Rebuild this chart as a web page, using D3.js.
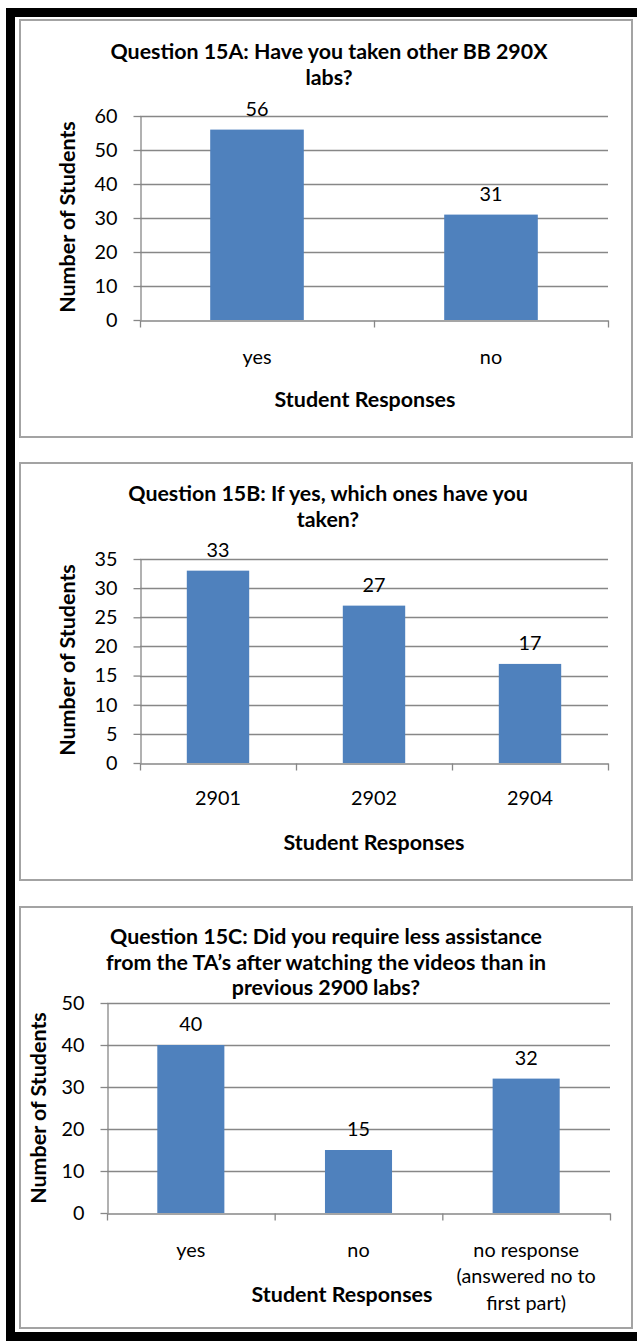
<!DOCTYPE html>
<html>
<head>
<meta charset="utf-8">
<script src="https://cdn.jsdelivr.net/npm/d3@7"></script>
<style>
  body { margin: 0; background: #fff; }
  svg { display: block; }
</style>
</head>
<body>
<svg id="chart" width="637" height="1341"></svg>
<script>
// Survey results, question 15
const q15aTitle = ["Question 15A: Have you taken other BB 290X", "labs?"];
const q15aCategories = ["yes", "no"];
const q15aCounts = [56, 31];
const q15aTicks = [0, 10, 20, 30, 40, 50, 60];

const q15bTitle = ["Question 15B: If yes, which ones have you", "taken?"];
const q15bCategories = ["2901", "2902", "2904"];
const q15bCounts = [33, 27, 17];
const q15bTicks = [0, 5, 10, 15, 20, 25, 30, 35];

const q15cTitle = ["Question 15C: Did you require less assistance",
                   "from the TA\u2019s after watching the videos than in",
                   "previous 2900 labs?"];
const q15cCategories = ["yes", "no", "no response\n(answered no to\nfirst part)"];
const q15cCounts = [40, 15, 32];
const q15cTicks = [0, 10, 20, 30, 40, 50];

const xAxisTitle = "Student Responses";
const yAxisTitle = "Number of Students";

const FONT = "Lato, 'Open Sans', 'DejaVu Sans', sans-serif";
const BAR = "#4f81bd";
const GRID = "#878787";

const svg = d3.select("#chart");

// Size a font so a given string spans a given width
function fitSize(text, weight, target) {
  const t = svg.append("text")
    .attr("font-family", FONT).attr("font-weight", weight)
    .attr("font-size", 100).text(text);
  const w = t.node().getComputedTextLength();
  t.remove();
  return 100 * target / w;
}
const titleSize = fitSize(q15aTitle[0], "bold", 437);
const axisTitleSize = fitSize(xAxisTitle, "bold", 181);
const tickSize = fitSize("2901", "normal", 46);

// Outer black frame (left, top, bottom)
svg.append("rect").attr("x", 6).attr("y", 8).attr("width", 9).attr("height", 1333).attr("fill", "#000");
svg.append("rect").attr("x", 6).attr("y", 8).attr("width", 631).attr("height", 9).attr("fill", "#000");
svg.append("rect").attr("x", 6).attr("y", 1332).attr("width", 631).attr("height", 9).attr("fill", "#000");

function drawPanel(cfg) {
  const g = svg.append("g");

  // chart area border
  g.append("rect")
    .attr("x", cfg.box[0]).attr("y", cfg.box[1])
    .attr("width", cfg.box[2] - cfg.box[0]).attr("height", cfg.box[3] - cfg.box[1])
    .attr("fill", "#fff").attr("stroke", "#a3a3a3").attr("stroke-width", 2);

  const { x0, x1, top, zero } = cfg.plot;
  const n = cfg.categories.length;

  const x = d3.scaleBand().domain(cfg.categories).range([x0, x1])
    .paddingInner(0.6).paddingOuter(0.3);
  const y = d3.scaleLinear().domain([0, d3.max(cfg.ticks)]).range([zero, top]);
  const slot = d3.scaleLinear().domain([0, n]).range([x0, x1]);

  // horizontal gridlines
  g.append("g").selectAll("line").data(cfg.ticks.filter(d => d > 0)).join("line")
    .attr("x1", x0).attr("x2", x1)
    .attr("y1", d => Math.round(y(d)) + 0.5).attr("y2", d => Math.round(y(d)) + 0.5)
    .attr("stroke", GRID).attr("stroke-width", 1.3);

  // bars
  g.append("g").selectAll("rect").data(cfg.counts).join("rect")
    .attr("x", (d, i) => x(cfg.categories[i]))
    .attr("width", x.bandwidth())
    .attr("y", d => y(d))
    .attr("height", d => zero - y(d))
    .attr("fill", BAR);

  // value labels
  g.append("g").selectAll("text").data(cfg.counts).join("text")
    .attr("x", (d, i) => x(cfg.categories[i]) + x.bandwidth() / 2)
    .attr("y", d => y(d) - 21)
    .attr("dy", "0.35em")
    .attr("text-anchor", "middle")
    .attr("font-family", FONT).attr("font-size", tickSize)
    .attr("fill", "#000")
    .text(d => d);

  // y axis
  const yAxis = g.append("g").attr("transform", `translate(${x0 + 0.5},0)`)
    .call(d3.axisLeft(y).tickValues(cfg.ticks).tickSize(7).tickSizeOuter(0).tickPadding(16));
  yAxis.select(".domain").attr("stroke", GRID).attr("stroke-width", 1.3);
  yAxis.selectAll(".tick line").attr("stroke", GRID).attr("stroke-width", 1.3);
  yAxis.selectAll(".tick text")
    .attr("font-family", FONT).attr("font-size", tickSize).attr("fill", "#000");

  // x axis with tick marks between categories
  const xAxis = g.append("g").attr("transform", `translate(0,${Math.round(zero) + 0.5})`)
    .call(d3.axisBottom(slot).tickValues(d3.range(n + 1)).tickSize(7).tickSizeOuter(0).tickFormat(""));
  xAxis.select(".domain").attr("stroke", GRID).attr("stroke-width", 1.3);
  xAxis.selectAll(".tick line").attr("stroke", GRID).attr("stroke-width", 1.3);

  // category labels
  const cat = g.append("g").selectAll("text").data(cfg.categories).join("text")
    .attr("text-anchor", "middle")
    .attr("font-family", FONT).attr("font-size", tickSize).attr("fill", "#000");
  cat.each(function (d) {
    const lines = d.split("\n");
    d3.select(this).selectAll("tspan").data(lines).join("tspan")
      .attr("x", x(d) + x.bandwidth() / 2)
      .attr("y", (l, i) => cfg.catY + i * cfg.catLine)
      .attr("dy", "0.35em")
      .text(l => l);
  });

  // chart title
  g.append("text")
    .attr("text-anchor", "middle")
    .attr("font-family", FONT).attr("font-weight", "bold").attr("font-size", titleSize)
    .attr("fill", "#000")
    .selectAll("tspan").data(cfg.title).join("tspan")
    .attr("x", cfg.titleX)
    .attr("y", (l, i) => cfg.titleY + i * cfg.titleLine)
    .attr("dy", "0.35em")
    .text(l => l);

  // axis titles
  g.append("text")
    .attr("x", cfg.xTitle[0]).attr("y", cfg.xTitle[1]).attr("dy", "0.35em")
    .attr("text-anchor", "middle")
    .attr("font-family", FONT).attr("font-weight", "bold").attr("font-size", axisTitleSize)
    .attr("fill", "#000")
    .text(xAxisTitle);

  g.append("text")
    .attr("transform", `translate(${cfg.yTitle[0]},${cfg.yTitle[1]}) rotate(-90)`)
    .attr("dy", "0.35em")
    .attr("text-anchor", "middle")
    .attr("font-family", FONT).attr("font-weight", "bold").attr("font-size", axisTitleSize)
    .attr("fill", "#000")
    .text(yAxisTitle);
}

drawPanel({
  box: [20, 20, 632, 437],
  plot: { x0: 140, x1: 608, top: 116, zero: 320 },
  categories: q15aCategories, counts: q15aCounts, ticks: q15aTicks,
  title: q15aTitle, titleX: 329, titleY: 52, titleLine: 26,
  catY: 357, catLine: 26,
  xTitle: [365, 399], yTitle: [67, 217]
});

drawPanel({
  box: [20, 463, 632, 880],
  plot: { x0: 140, x1: 608, top: 559, zero: 763 },
  categories: q15bCategories, counts: q15bCounts, ticks: q15bTicks,
  title: q15bTitle, titleX: 328, titleY: 494, titleLine: 26,
  catY: 798, catLine: 26,
  xTitle: [374, 842], yTitle: [67, 660]
});

drawPanel({
  box: [20, 907, 632, 1328],
  plot: { x0: 107, x1: 610, top: 1003, zero: 1213 },
  categories: q15cCategories, counts: q15cCounts, ticks: q15cTicks,
  title: q15cTitle, titleX: 326, titleY: 937, titleLine: 25.5,
  catY: 1250, catLine: 26.5,
  xTitle: [342, 1294], yTitle: [38, 1108]
});
</script>
</body>
</html>
